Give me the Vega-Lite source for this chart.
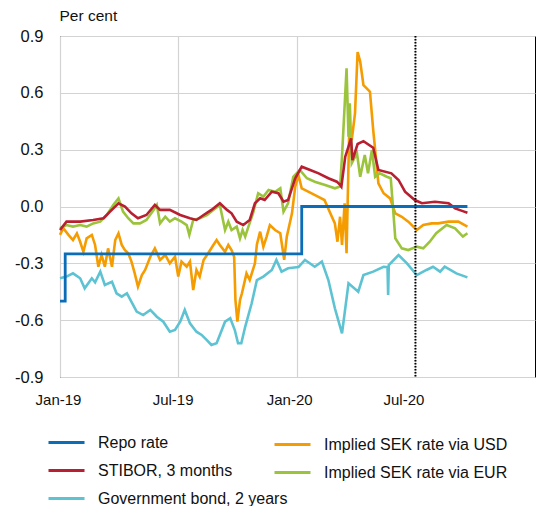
{
  "$schema": "https://vega.github.io/schema/vega-lite/v6.json",
  "width": 475,
  "height": 341,
  "autosize": {"type": "none"},
  "padding": {"left": 60, "top": 36, "right": 4, "bottom": 129},
  "background": "white",
  "config": {
    "view": {"stroke": "black", "strokeWidth": 1},
    "font": "Liberation Sans",
    "axis": {"labelColor": "#111", "titleColor": "#111", "gridColor": "#d3d3d3", "gridWidth": 1.2, "ticks": false, "tickSize": 0, "domain": false},
    "legend": {"orient": "none", "title": null, "symbolType": "stroke", "symbolStrokeWidth": 3, "symbolSize": 1296, "labelFontSize": 16, "labelColor": "#111", "labelOffset": 12, "padding": 0, "rowPadding": 0, "labelLimit": 300}
  },
  "datasets": {
    "rates": [
      {"s": "Implied SEK rate via USD", "d": "2019-01-01", "v": -0.15},
      {"s": "Implied SEK rate via USD", "d": "2019-01-06", "v": -0.115},
      {"s": "Implied SEK rate via USD", "d": "2019-01-14", "v": -0.15},
      {"s": "Implied SEK rate via USD", "d": "2019-01-21", "v": -0.177},
      {"s": "Implied SEK rate via USD", "d": "2019-01-27", "v": -0.142},
      {"s": "Implied SEK rate via USD", "d": "2019-02-01", "v": -0.186},
      {"s": "Implied SEK rate via USD", "d": "2019-02-06", "v": -0.239},
      {"s": "Implied SEK rate via USD", "d": "2019-02-11", "v": -0.168},
      {"s": "Implied SEK rate via USD", "d": "2019-02-19", "v": -0.15},
      {"s": "Implied SEK rate via USD", "d": "2019-02-24", "v": -0.203},
      {"s": "Implied SEK rate via USD", "d": "2019-03-01", "v": -0.318},
      {"s": "Implied SEK rate via USD", "d": "2019-03-06", "v": -0.256},
      {"s": "Implied SEK rate via USD", "d": "2019-03-11", "v": -0.318},
      {"s": "Implied SEK rate via USD", "d": "2019-03-16", "v": -0.221},
      {"s": "Implied SEK rate via USD", "d": "2019-03-22", "v": -0.318},
      {"s": "Implied SEK rate via USD", "d": "2019-03-27", "v": -0.177},
      {"s": "Implied SEK rate via USD", "d": "2019-04-01", "v": -0.142},
      {"s": "Implied SEK rate via USD", "d": "2019-04-06", "v": -0.203},
      {"s": "Implied SEK rate via USD", "d": "2019-04-11", "v": -0.23},
      {"s": "Implied SEK rate via USD", "d": "2019-04-16", "v": -0.247},
      {"s": "Implied SEK rate via USD", "d": "2019-04-21", "v": -0.291},
      {"s": "Implied SEK rate via USD", "d": "2019-04-26", "v": -0.353},
      {"s": "Implied SEK rate via USD", "d": "2019-05-01", "v": -0.423},
      {"s": "Implied SEK rate via USD", "d": "2019-05-07", "v": -0.362},
      {"s": "Implied SEK rate via USD", "d": "2019-05-12", "v": -0.335},
      {"s": "Implied SEK rate via USD", "d": "2019-05-20", "v": -0.265},
      {"s": "Implied SEK rate via USD", "d": "2019-05-27", "v": -0.221},
      {"s": "Implied SEK rate via USD", "d": "2019-06-04", "v": -0.282},
      {"s": "Implied SEK rate via USD", "d": "2019-06-12", "v": -0.256},
      {"s": "Implied SEK rate via USD", "d": "2019-06-19", "v": -0.3},
      {"s": "Implied SEK rate via USD", "d": "2019-06-27", "v": -0.265},
      {"s": "Implied SEK rate via USD", "d": "2019-07-02", "v": -0.37},
      {"s": "Implied SEK rate via USD", "d": "2019-07-07", "v": -0.291},
      {"s": "Implied SEK rate via USD", "d": "2019-07-15", "v": -0.318},
      {"s": "Implied SEK rate via USD", "d": "2019-07-20", "v": -0.291},
      {"s": "Implied SEK rate via USD", "d": "2019-07-25", "v": -0.441},
      {"s": "Implied SEK rate via USD", "d": "2019-07-30", "v": -0.335},
      {"s": "Implied SEK rate via USD", "d": "2019-08-04", "v": -0.37},
      {"s": "Implied SEK rate via USD", "d": "2019-08-10", "v": -0.282},
      {"s": "Implied SEK rate via USD", "d": "2019-08-17", "v": -0.247},
      {"s": "Implied SEK rate via USD", "d": "2019-08-25", "v": -0.203},
      {"s": "Implied SEK rate via USD", "d": "2019-08-30", "v": -0.177},
      {"s": "Implied SEK rate via USD", "d": "2019-09-04", "v": -0.203},
      {"s": "Implied SEK rate via USD", "d": "2019-09-12", "v": -0.239},
      {"s": "Implied SEK rate via USD", "d": "2019-09-17", "v": -0.203},
      {"s": "Implied SEK rate via USD", "d": "2019-09-22", "v": -0.23},
      {"s": "Implied SEK rate via USD", "d": "2019-09-26", "v": -0.265},
      {"s": "Implied SEK rate via USD", "d": "2019-09-28", "v": -0.494},
      {"s": "Implied SEK rate via USD", "d": "2019-10-01", "v": -0.608},
      {"s": "Implied SEK rate via USD", "d": "2019-10-05", "v": -0.494},
      {"s": "Implied SEK rate via USD", "d": "2019-10-08", "v": -0.458},
      {"s": "Implied SEK rate via USD", "d": "2019-10-15", "v": -0.353},
      {"s": "Implied SEK rate via USD", "d": "2019-10-20", "v": -0.388},
      {"s": "Implied SEK rate via USD", "d": "2019-10-28", "v": -0.3},
      {"s": "Implied SEK rate via USD", "d": "2019-10-31", "v": -0.2},
      {"s": "Implied SEK rate via USD", "d": "2019-11-05", "v": -0.133},
      {"s": "Implied SEK rate via USD", "d": "2019-11-10", "v": -0.212},
      {"s": "Implied SEK rate via USD", "d": "2019-11-15", "v": -0.159},
      {"s": "Implied SEK rate via USD", "d": "2019-11-20", "v": -0.098},
      {"s": "Implied SEK rate via USD", "d": "2019-11-28", "v": -0.124},
      {"s": "Implied SEK rate via USD", "d": "2019-12-06", "v": -0.141},
      {"s": "Implied SEK rate via USD", "d": "2019-12-12", "v": -0.282},
      {"s": "Implied SEK rate via USD", "d": "2019-12-16", "v": -0.159},
      {"s": "Implied SEK rate via USD", "d": "2019-12-24", "v": -0.036},
      {"s": "Implied SEK rate via USD", "d": "2019-12-29", "v": 0.105},
      {"s": "Implied SEK rate via USD", "d": "2020-01-03", "v": 0.166},
      {"s": "Implied SEK rate via USD", "d": "2020-01-08", "v": 0.096},
      {"s": "Implied SEK rate via USD", "d": "2020-01-18", "v": 0.078},
      {"s": "Implied SEK rate via USD", "d": "2020-02-02", "v": 0.052},
      {"s": "Implied SEK rate via USD", "d": "2020-02-12", "v": 0.034},
      {"s": "Implied SEK rate via USD", "d": "2020-02-21", "v": -0.036},
      {"s": "Implied SEK rate via USD", "d": "2020-02-28", "v": -0.089},
      {"s": "Implied SEK rate via USD", "d": "2020-03-03", "v": -0.186},
      {"s": "Implied SEK rate via USD", "d": "2020-03-07", "v": -0.054},
      {"s": "Implied SEK rate via USD", "d": "2020-03-10", "v": -0.203},
      {"s": "Implied SEK rate via USD", "d": "2020-03-14", "v": 0.017},
      {"s": "Implied SEK rate via USD", "d": "2020-03-17", "v": -0.247},
      {"s": "Implied SEK rate via USD", "d": "2020-03-21", "v": 0.386},
      {"s": "Implied SEK rate via USD", "d": "2020-03-25", "v": 0.351},
      {"s": "Implied SEK rate via USD", "d": "2020-03-30", "v": 0.492},
      {"s": "Implied SEK rate via USD", "d": "2020-04-03", "v": 0.815},
      {"s": "Implied SEK rate via USD", "d": "2020-04-07", "v": 0.765},
      {"s": "Implied SEK rate via USD", "d": "2020-04-12", "v": 0.641},
      {"s": "Implied SEK rate via USD", "d": "2020-04-17", "v": 0.624},
      {"s": "Implied SEK rate via USD", "d": "2020-04-22", "v": 0.606},
      {"s": "Implied SEK rate via USD", "d": "2020-04-27", "v": 0.404},
      {"s": "Implied SEK rate via USD", "d": "2020-05-05", "v": 0.122},
      {"s": "Implied SEK rate via USD", "d": "2020-05-13", "v": 0.07},
      {"s": "Implied SEK rate via USD", "d": "2020-05-23", "v": 0.043},
      {"s": "Implied SEK rate via USD", "d": "2020-05-31", "v": -0.036},
      {"s": "Implied SEK rate via USD", "d": "2020-06-10", "v": -0.054},
      {"s": "Implied SEK rate via USD", "d": "2020-06-20", "v": -0.08},
      {"s": "Implied SEK rate via USD", "d": "2020-07-03", "v": -0.124},
      {"s": "Implied SEK rate via USD", "d": "2020-07-13", "v": -0.098},
      {"s": "Implied SEK rate via USD", "d": "2020-07-26", "v": -0.089},
      {"s": "Implied SEK rate via USD", "d": "2020-08-05", "v": -0.089},
      {"s": "Implied SEK rate via USD", "d": "2020-08-21", "v": -0.08},
      {"s": "Implied SEK rate via USD", "d": "2020-09-05", "v": -0.08},
      {"s": "Implied SEK rate via USD", "d": "2020-09-19", "v": -0.106},

      {"s": "Implied SEK rate via EUR", "d": "2019-01-01", "v": -0.115},
      {"s": "Implied SEK rate via EUR", "d": "2019-01-11", "v": -0.098},
      {"s": "Implied SEK rate via EUR", "d": "2019-01-21", "v": -0.106},
      {"s": "Implied SEK rate via EUR", "d": "2019-02-01", "v": -0.098},
      {"s": "Implied SEK rate via EUR", "d": "2019-02-11", "v": -0.106},
      {"s": "Implied SEK rate via EUR", "d": "2019-02-21", "v": -0.089},
      {"s": "Implied SEK rate via EUR", "d": "2019-03-04", "v": -0.08},
      {"s": "Implied SEK rate via EUR", "d": "2019-03-14", "v": -0.045},
      {"s": "Implied SEK rate via EUR", "d": "2019-03-24", "v": 0.008},
      {"s": "Implied SEK rate via EUR", "d": "2019-04-01", "v": 0.043},
      {"s": "Implied SEK rate via EUR", "d": "2019-04-08", "v": -0.027},
      {"s": "Implied SEK rate via EUR", "d": "2019-04-16", "v": -0.062},
      {"s": "Implied SEK rate via EUR", "d": "2019-04-24", "v": -0.089},
      {"s": "Implied SEK rate via EUR", "d": "2019-05-04", "v": -0.089},
      {"s": "Implied SEK rate via EUR", "d": "2019-05-14", "v": -0.071},
      {"s": "Implied SEK rate via EUR", "d": "2019-05-25", "v": -0.018},
      {"s": "Implied SEK rate via EUR", "d": "2019-05-30", "v": 0.008},
      {"s": "Implied SEK rate via EUR", "d": "2019-06-04", "v": -0.089},
      {"s": "Implied SEK rate via EUR", "d": "2019-06-12", "v": -0.054},
      {"s": "Implied SEK rate via EUR", "d": "2019-06-19", "v": -0.08},
      {"s": "Implied SEK rate via EUR", "d": "2019-06-27", "v": -0.062},
      {"s": "Implied SEK rate via EUR", "d": "2019-07-07", "v": -0.08},
      {"s": "Implied SEK rate via EUR", "d": "2019-07-15", "v": -0.098},
      {"s": "Implied SEK rate via EUR", "d": "2019-07-19", "v": -0.15},
      {"s": "Implied SEK rate via EUR", "d": "2019-07-25", "v": -0.071},
      {"s": "Implied SEK rate via EUR", "d": "2019-08-04", "v": -0.062},
      {"s": "Implied SEK rate via EUR", "d": "2019-08-15", "v": -0.045},
      {"s": "Implied SEK rate via EUR", "d": "2019-08-25", "v": -0.018},
      {"s": "Implied SEK rate via EUR", "d": "2019-09-04", "v": 0.008},
      {"s": "Implied SEK rate via EUR", "d": "2019-09-12", "v": -0.124},
      {"s": "Implied SEK rate via EUR", "d": "2019-09-17", "v": -0.08},
      {"s": "Implied SEK rate via EUR", "d": "2019-09-22", "v": -0.124},
      {"s": "Implied SEK rate via EUR", "d": "2019-09-30", "v": -0.106},
      {"s": "Implied SEK rate via EUR", "d": "2019-10-05", "v": -0.168},
      {"s": "Implied SEK rate via EUR", "d": "2019-10-09", "v": -0.124},
      {"s": "Implied SEK rate via EUR", "d": "2019-10-13", "v": -0.159},
      {"s": "Implied SEK rate via EUR", "d": "2019-10-18", "v": -0.106},
      {"s": "Implied SEK rate via EUR", "d": "2019-10-25", "v": -0.036},
      {"s": "Implied SEK rate via EUR", "d": "2019-11-02", "v": 0.07},
      {"s": "Implied SEK rate via EUR", "d": "2019-11-10", "v": 0.052},
      {"s": "Implied SEK rate via EUR", "d": "2019-11-18", "v": 0.087},
      {"s": "Implied SEK rate via EUR", "d": "2019-11-28", "v": 0.078},
      {"s": "Implied SEK rate via EUR", "d": "2019-12-06", "v": 0.096},
      {"s": "Implied SEK rate via EUR", "d": "2019-12-11", "v": -0.027},
      {"s": "Implied SEK rate via EUR", "d": "2019-12-18", "v": 0.017},
      {"s": "Implied SEK rate via EUR", "d": "2019-12-26", "v": 0.157},
      {"s": "Implied SEK rate via EUR", "d": "2020-01-05", "v": 0.193},
      {"s": "Implied SEK rate via EUR", "d": "2020-01-16", "v": 0.149},
      {"s": "Implied SEK rate via EUR", "d": "2020-01-28", "v": 0.131},
      {"s": "Implied SEK rate via EUR", "d": "2020-02-13", "v": 0.114},
      {"s": "Implied SEK rate via EUR", "d": "2020-02-28", "v": 0.096},
      {"s": "Implied SEK rate via EUR", "d": "2020-03-07", "v": 0.105},
      {"s": "Implied SEK rate via EUR", "d": "2020-03-10", "v": 0.263},
      {"s": "Implied SEK rate via EUR", "d": "2020-03-17", "v": 0.729},
      {"s": "Implied SEK rate via EUR", "d": "2020-03-20", "v": 0.369},
      {"s": "Implied SEK rate via EUR", "d": "2020-03-22", "v": 0.545},
      {"s": "Implied SEK rate via EUR", "d": "2020-03-25", "v": 0.228},
      {"s": "Implied SEK rate via EUR", "d": "2020-04-02", "v": 0.281},
      {"s": "Implied SEK rate via EUR", "d": "2020-04-07", "v": 0.157},
      {"s": "Implied SEK rate via EUR", "d": "2020-04-14", "v": 0.272},
      {"s": "Implied SEK rate via EUR", "d": "2020-04-19", "v": 0.175},
      {"s": "Implied SEK rate via EUR", "d": "2020-04-25", "v": 0.298},
      {"s": "Implied SEK rate via EUR", "d": "2020-04-30", "v": 0.157},
      {"s": "Implied SEK rate via EUR", "d": "2020-05-07", "v": 0.175},
      {"s": "Implied SEK rate via EUR", "d": "2020-05-18", "v": 0.157},
      {"s": "Implied SEK rate via EUR", "d": "2020-05-24", "v": 0.149},
      {"s": "Implied SEK rate via EUR", "d": "2020-05-27", "v": 0.017},
      {"s": "Implied SEK rate via EUR", "d": "2020-05-31", "v": -0.168},
      {"s": "Implied SEK rate via EUR", "d": "2020-06-10", "v": -0.221},
      {"s": "Implied SEK rate via EUR", "d": "2020-06-20", "v": -0.23},
      {"s": "Implied SEK rate via EUR", "d": "2020-07-03", "v": -0.212},
      {"s": "Implied SEK rate via EUR", "d": "2020-07-13", "v": -0.221},
      {"s": "Implied SEK rate via EUR", "d": "2020-07-23", "v": -0.186},
      {"s": "Implied SEK rate via EUR", "d": "2020-08-02", "v": -0.141},
      {"s": "Implied SEK rate via EUR", "d": "2020-08-18", "v": -0.098},
      {"s": "Implied SEK rate via EUR", "d": "2020-08-31", "v": -0.115},
      {"s": "Implied SEK rate via EUR", "d": "2020-09-12", "v": -0.159},
      {"s": "Implied SEK rate via EUR", "d": "2020-09-19", "v": -0.141},

      {"s": "STIBOR, 3 months", "d": "2019-01-01", "v": -0.124},
      {"s": "STIBOR, 3 months", "d": "2019-01-11", "v": -0.08},
      {"s": "STIBOR, 3 months", "d": "2019-02-01", "v": -0.08},
      {"s": "STIBOR, 3 months", "d": "2019-02-21", "v": -0.071},
      {"s": "STIBOR, 3 months", "d": "2019-03-09", "v": -0.062},
      {"s": "STIBOR, 3 months", "d": "2019-03-19", "v": -0.027},
      {"s": "STIBOR, 3 months", "d": "2019-04-01", "v": 0.017},
      {"s": "STIBOR, 3 months", "d": "2019-04-11", "v": 0.0},
      {"s": "STIBOR, 3 months", "d": "2019-04-21", "v": -0.036},
      {"s": "STIBOR, 3 months", "d": "2019-05-01", "v": -0.062},
      {"s": "STIBOR, 3 months", "d": "2019-05-14", "v": -0.045},
      {"s": "STIBOR, 3 months", "d": "2019-05-27", "v": 0.008},
      {"s": "STIBOR, 3 months", "d": "2019-06-04", "v": -0.018},
      {"s": "STIBOR, 3 months", "d": "2019-06-19", "v": -0.018},
      {"s": "STIBOR, 3 months", "d": "2019-07-05", "v": -0.045},
      {"s": "STIBOR, 3 months", "d": "2019-07-20", "v": -0.062},
      {"s": "STIBOR, 3 months", "d": "2019-07-30", "v": -0.071},
      {"s": "STIBOR, 3 months", "d": "2019-08-10", "v": -0.045},
      {"s": "STIBOR, 3 months", "d": "2019-08-22", "v": -0.018},
      {"s": "STIBOR, 3 months", "d": "2019-09-04", "v": 0.017},
      {"s": "STIBOR, 3 months", "d": "2019-09-15", "v": -0.018},
      {"s": "STIBOR, 3 months", "d": "2019-09-22", "v": -0.036},
      {"s": "STIBOR, 3 months", "d": "2019-09-30", "v": -0.08},
      {"s": "STIBOR, 3 months", "d": "2019-10-10", "v": -0.098},
      {"s": "STIBOR, 3 months", "d": "2019-10-20", "v": -0.071},
      {"s": "STIBOR, 3 months", "d": "2019-10-28", "v": 0.017},
      {"s": "STIBOR, 3 months", "d": "2019-11-05", "v": 0.043},
      {"s": "STIBOR, 3 months", "d": "2019-11-12", "v": 0.034},
      {"s": "STIBOR, 3 months", "d": "2019-11-23", "v": 0.078},
      {"s": "STIBOR, 3 months", "d": "2019-12-03", "v": 0.07},
      {"s": "STIBOR, 3 months", "d": "2019-12-11", "v": 0.025},
      {"s": "STIBOR, 3 months", "d": "2019-12-18", "v": 0.034},
      {"s": "STIBOR, 3 months", "d": "2019-12-29", "v": 0.149},
      {"s": "STIBOR, 3 months", "d": "2020-01-08", "v": 0.21},
      {"s": "STIBOR, 3 months", "d": "2020-01-21", "v": 0.193},
      {"s": "STIBOR, 3 months", "d": "2020-02-03", "v": 0.175},
      {"s": "STIBOR, 3 months", "d": "2020-02-18", "v": 0.149},
      {"s": "STIBOR, 3 months", "d": "2020-03-02", "v": 0.131},
      {"s": "STIBOR, 3 months", "d": "2020-03-07", "v": 0.114},
      {"s": "STIBOR, 3 months", "d": "2020-03-09", "v": 0.105},
      {"s": "STIBOR, 3 months", "d": "2020-03-15", "v": 0.263},
      {"s": "STIBOR, 3 months", "d": "2020-03-24", "v": 0.36},
      {"s": "STIBOR, 3 months", "d": "2020-03-26", "v": 0.245},
      {"s": "STIBOR, 3 months", "d": "2020-04-03", "v": 0.33},
      {"s": "STIBOR, 3 months", "d": "2020-04-12", "v": 0.345},
      {"s": "STIBOR, 3 months", "d": "2020-04-27", "v": 0.31},
      {"s": "STIBOR, 3 months", "d": "2020-05-05", "v": 0.193},
      {"s": "STIBOR, 3 months", "d": "2020-05-25", "v": 0.175},
      {"s": "STIBOR, 3 months", "d": "2020-06-05", "v": 0.14},
      {"s": "STIBOR, 3 months", "d": "2020-06-15", "v": 0.078},
      {"s": "STIBOR, 3 months", "d": "2020-06-30", "v": 0.034},
      {"s": "STIBOR, 3 months", "d": "2020-07-11", "v": 0.017},
      {"s": "STIBOR, 3 months", "d": "2020-07-31", "v": 0.025},
      {"s": "STIBOR, 3 months", "d": "2020-08-21", "v": 0.017},
      {"s": "STIBOR, 3 months", "d": "2020-08-31", "v": -0.01},
      {"s": "STIBOR, 3 months", "d": "2020-09-14", "v": -0.027},
      {"s": "STIBOR, 3 months", "d": "2020-09-19", "v": -0.033},

      {"s": "Government bond, 2 years", "d": "2019-01-01", "v": -0.379},
      {"s": "Government bond, 2 years", "d": "2019-01-11", "v": -0.37},
      {"s": "Government bond, 2 years", "d": "2019-01-21", "v": -0.353},
      {"s": "Government bond, 2 years", "d": "2019-02-01", "v": -0.379},
      {"s": "Government bond, 2 years", "d": "2019-02-08", "v": -0.432},
      {"s": "Government bond, 2 years", "d": "2019-02-19", "v": -0.379},
      {"s": "Government bond, 2 years", "d": "2019-02-24", "v": -0.4},
      {"s": "Government bond, 2 years", "d": "2019-03-04", "v": -0.344},
      {"s": "Government bond, 2 years", "d": "2019-03-11", "v": -0.414},
      {"s": "Government bond, 2 years", "d": "2019-03-22", "v": -0.397},
      {"s": "Government bond, 2 years", "d": "2019-03-29", "v": -0.458},
      {"s": "Government bond, 2 years", "d": "2019-04-06", "v": -0.476},
      {"s": "Government bond, 2 years", "d": "2019-04-14", "v": -0.458},
      {"s": "Government bond, 2 years", "d": "2019-04-21", "v": -0.503},
      {"s": "Government bond, 2 years", "d": "2019-04-29", "v": -0.555},
      {"s": "Government bond, 2 years", "d": "2019-05-09", "v": -0.573},
      {"s": "Government bond, 2 years", "d": "2019-05-20", "v": -0.546},
      {"s": "Government bond, 2 years", "d": "2019-05-30", "v": -0.582},
      {"s": "Government bond, 2 years", "d": "2019-06-09", "v": -0.608},
      {"s": "Government bond, 2 years", "d": "2019-06-19", "v": -0.661},
      {"s": "Government bond, 2 years", "d": "2019-06-27", "v": -0.652},
      {"s": "Government bond, 2 years", "d": "2019-07-05", "v": -0.608},
      {"s": "Government bond, 2 years", "d": "2019-07-12", "v": -0.546},
      {"s": "Government bond, 2 years", "d": "2019-07-20", "v": -0.617},
      {"s": "Government bond, 2 years", "d": "2019-07-30", "v": -0.661},
      {"s": "Government bond, 2 years", "d": "2019-08-07", "v": -0.678},
      {"s": "Government bond, 2 years", "d": "2019-08-15", "v": -0.705},
      {"s": "Government bond, 2 years", "d": "2019-08-22", "v": -0.731},
      {"s": "Government bond, 2 years", "d": "2019-08-30", "v": -0.722},
      {"s": "Government bond, 2 years", "d": "2019-09-07", "v": -0.652},
      {"s": "Government bond, 2 years", "d": "2019-09-12", "v": -0.608},
      {"s": "Government bond, 2 years", "d": "2019-09-20", "v": -0.59},
      {"s": "Government bond, 2 years", "d": "2019-09-27", "v": -0.652},
      {"s": "Government bond, 2 years", "d": "2019-10-02", "v": -0.722},
      {"s": "Government bond, 2 years", "d": "2019-10-07", "v": -0.722},
      {"s": "Government bond, 2 years", "d": "2019-10-13", "v": -0.635},
      {"s": "Government bond, 2 years", "d": "2019-10-23", "v": -0.511},
      {"s": "Government bond, 2 years", "d": "2019-10-31", "v": -0.388},
      {"s": "Government bond, 2 years", "d": "2019-11-10", "v": -0.37},
      {"s": "Government bond, 2 years", "d": "2019-11-23", "v": -0.335},
      {"s": "Government bond, 2 years", "d": "2019-11-30", "v": -0.282},
      {"s": "Government bond, 2 years", "d": "2019-12-08", "v": -0.344},
      {"s": "Government bond, 2 years", "d": "2019-12-18", "v": -0.326},
      {"s": "Government bond, 2 years", "d": "2020-01-03", "v": -0.32},
      {"s": "Government bond, 2 years", "d": "2020-01-13", "v": -0.282},
      {"s": "Government bond, 2 years", "d": "2020-01-28", "v": -0.318},
      {"s": "Government bond, 2 years", "d": "2020-02-08", "v": -0.291},
      {"s": "Government bond, 2 years", "d": "2020-02-18", "v": -0.388},
      {"s": "Government bond, 2 years", "d": "2020-02-28", "v": -0.537},
      {"s": "Government bond, 2 years", "d": "2020-03-10", "v": -0.67},
      {"s": "Government bond, 2 years", "d": "2020-03-20", "v": -0.405},
      {"s": "Government bond, 2 years", "d": "2020-04-04", "v": -0.45},
      {"s": "Government bond, 2 years", "d": "2020-04-12", "v": -0.362},
      {"s": "Government bond, 2 years", "d": "2020-04-27", "v": -0.344},
      {"s": "Government bond, 2 years", "d": "2020-05-13", "v": -0.318},
      {"s": "Government bond, 2 years", "d": "2020-05-19", "v": -0.32},
      {"s": "Government bond, 2 years", "d": "2020-05-20", "v": -0.467},
      {"s": "Government bond, 2 years", "d": "2020-05-21", "v": -0.309},
      {"s": "Government bond, 2 years", "d": "2020-06-05", "v": -0.256},
      {"s": "Government bond, 2 years", "d": "2020-06-18", "v": -0.3},
      {"s": "Government bond, 2 years", "d": "2020-07-03", "v": -0.362},
      {"s": "Government bond, 2 years", "d": "2020-07-18", "v": -0.335},
      {"s": "Government bond, 2 years", "d": "2020-07-28", "v": -0.318},
      {"s": "Government bond, 2 years", "d": "2020-08-08", "v": -0.344},
      {"s": "Government bond, 2 years", "d": "2020-08-15", "v": -0.318},
      {"s": "Government bond, 2 years", "d": "2020-09-02", "v": -0.353},
      {"s": "Government bond, 2 years", "d": "2020-09-19", "v": -0.374},

      {"s": "Repo rate", "d": "2019-01-01", "v": -0.5},
      {"s": "Repo rate", "d": "2019-01-09", "v": -0.25},
      {"s": "Repo rate", "d": "2020-01-08", "v": 0.0},
      {"s": "Repo rate", "d": "2020-09-19", "v": 0.0}
    ],
    "marker": [{"d": "2020-07-01"}]
  },
  "encoding": {
    "x": {
      "field": "d",
      "type": "temporal",
      "title": null,
      "scale": {"domain": [{"year": 2019, "month": 1, "date": 1}, {"year": 2021, "month": 1, "date": 1}]},
      "axis": {
        "values": [{"year": 2019, "month": 1, "date": 1}, {"year": 2019, "month": 7, "date": 1}, {"year": 2020, "month": 1, "date": 1}, {"year": 2020, "month": 7, "date": 1}],
        "format": "%b-%y",
        "labelFontSize": 15,
        "labelPadding": 15,
        "labelFlush": false,
        "labelOverlap": false,
        "grid": true,
        "labelOffset": {
          "condition": [
            {"test": "month(datum.value) == 6 && year(datum.value) == 2019", "value": -5},
            {"test": "month(datum.value) == 0 && year(datum.value) == 2020", "value": -8},
            {"test": "month(datum.value) == 6 && year(datum.value) == 2020", "value": -12}
          ],
          "value": -2
        }
      }
    }
  },
  "layer": [
    {
      "data": {"name": "rates"},
      "transform": [{"filter": "datum.s == 'Implied SEK rate via USD' || datum.s == 'Implied SEK rate via EUR'"}],
      "mark": {"type": "line", "strokeWidth": 2.6},
      "encoding": {
        "y": {
          "field": "v",
          "type": "quantitative",
          "title": "Per cent",
          "scale": {"domain": [-0.9, 0.9], "nice": false, "zero": false},
          "axis": {
            "values": [-0.9, -0.6, -0.3, 0, 0.3, 0.6, 0.9],
            "labelExpr": "replace(format(datum.value, '.1f'), '\u2212', '-')",
            "labelFontSize": 16.5,
            "labelPadding": 17,
            "grid": true,
            "titleAngle": 0,
            "titleAlign": "left",
            "titleBaseline": "middle",
            "titleX": -1,
            "titleY": -21,
            "titleFontSize": 15.5,
            "titleFontWeight": "normal"
          }
        },
        "stroke": {
          "field": "s",
          "type": "nominal",
          "scale": {"domain": ["Implied SEK rate via USD", "Implied SEK rate via EUR"], "range": ["#f59c00", "#9bc43c"]},
          "legend": {"legendX": 213, "legendY": 389}
        }
      }
    },
    {
      "data": {"name": "rates"},
      "transform": [{"filter": "datum.s == 'STIBOR, 3 months' || datum.s == 'Government bond, 2 years'"}],
      "mark": {"type": "line", "strokeWidth": 2.6},
      "encoding": {
        "y": {"field": "v", "type": "quantitative"},
        "color": {
          "field": "s",
          "type": "nominal",
          "scale": {"domain": ["Repo rate", "STIBOR, 3 months", "Government bond, 2 years"], "range": ["#0b6db7", "#b81f30", "#5dc3d3"]},
          "legend": {"legendX": -13, "legendY": 387}
        }
      }
    },
    {
      "data": {"name": "rates"},
      "transform": [{"filter": "datum.s == 'Repo rate'"}],
      "mark": {"type": "line", "strokeWidth": 2.8, "interpolate": "step-after"},
      "encoding": {
        "y": {"field": "v", "type": "quantitative"},
        "color": {"field": "s", "type": "nominal"}
      }
    },
    {
      "data": {"name": "marker"},
      "mark": {"type": "rule", "color": "black", "strokeWidth": 2, "strokeDash": [1.5, 1.5]},
      "encoding": {}
    }
  ]
}
